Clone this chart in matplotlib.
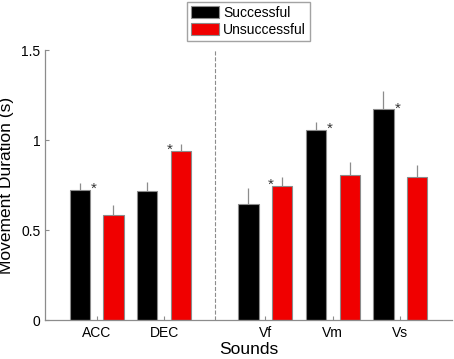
import matplotlib
matplotlib.use("Agg")
import matplotlib.pyplot as plt
import numpy as np

plt.rcParams["font.family"] = ["Liberation Sans", "DejaVu Sans"]

sounds = ["ACC", "DEC", "Vf", "Vm", "Vs"]
positions = [1, 2, 3.5, 4.5, 5.5]
successful = [0.724, 0.717, 0.643, 1.056, 1.170]
successful_err = [0.035, 0.050, 0.092, 0.042, 0.102]
unsuccessful = [0.583, 0.937, 0.744, 0.804, 0.796]
unsuccessful_err = [0.054, 0.039, 0.052, 0.072, 0.063]
# which bars carry a significance star
star_successful = [True, False, False, True, True]
star_unsuccessful = [False, True, True, False, False]

edge = "#8c8c8c"
width = 0.3
offset = 0.25

fig = plt.figure(figsize=(4.54, 3.59), dpi=100)
ax = fig.add_axes([0.0998, 0.1086, 0.895, 0.752])

x = np.array(positions)
b1 = ax.bar(x - offset, successful, width, color="black", edgecolor=edge,
            linewidth=0.8, label="Successful", zorder=2)
b2 = ax.bar(x + offset, unsuccessful, width, color="#f00000", edgecolor=edge,
            linewidth=0.8, label="Unsuccessful", zorder=2)
ax.errorbar(x - offset, successful, yerr=[np.zeros(5), successful_err],
            fmt="none", ecolor=edge, elinewidth=0.9, capsize=0, zorder=1)
ax.errorbar(x + offset, unsuccessful, yerr=[np.zeros(5), unsuccessful_err],
            fmt="none", ecolor=edge, elinewidth=0.9, capsize=0, zorder=1)

for xi, v, s in zip(x, successful, star_successful):
    if s:
        ax.text(xi - offset + width / 2 + 0.06, v + 0.005, "*", ha="center",
                va="center", fontsize=11, color="#333333")
for xi, v, s in zip(x, unsuccessful, star_unsuccessful):
    if s:
        ax.text(xi + offset - width / 2 - 0.02, v + 0.01, "*", ha="center",
                va="center", fontsize=11, color="#333333")

ax.axvline(2.75, ymin=0, ymax=1, color=edge, linestyle="--", linewidth=0.8)

ax.set_xlim(0.24, 6.26)
ax.set_ylim(0, 1.5)
ax.set_xticks(positions)
ax.set_xticklabels(sounds, fontsize=10)
ax.set_yticks([0, 0.5, 1, 1.5])
ax.set_yticklabels(["0", "0.5", "1", "1.5"], fontsize=10)
ax.tick_params(direction="in", length=3, color=edge, width=0.8)
ax.tick_params(axis="x", pad=4)
for side in ["top", "right"]:
    ax.spines[side].set_visible(False)
for side in ["left", "bottom"]:
    ax.spines[side].set_color(edge)
    ax.spines[side].set_linewidth(0.9)

ax.set_xlabel("Sounds", fontsize=12.5, labelpad=2)
ax.set_ylabel("Movement Duration (s)", fontsize=12.5, labelpad=5)

fig.legend(handles=[b1, b2], loc="upper center", bbox_to_anchor=(0.548, 0.995),
           fontsize=10, frameon=True, fancybox=False, edgecolor=edge,
           handlelength=2.0, handleheight=0.9, handletextpad=0.3,
           borderpad=0.3, labelspacing=0.2, borderaxespad=0)

fig.savefig("out.png", dpi=100)
